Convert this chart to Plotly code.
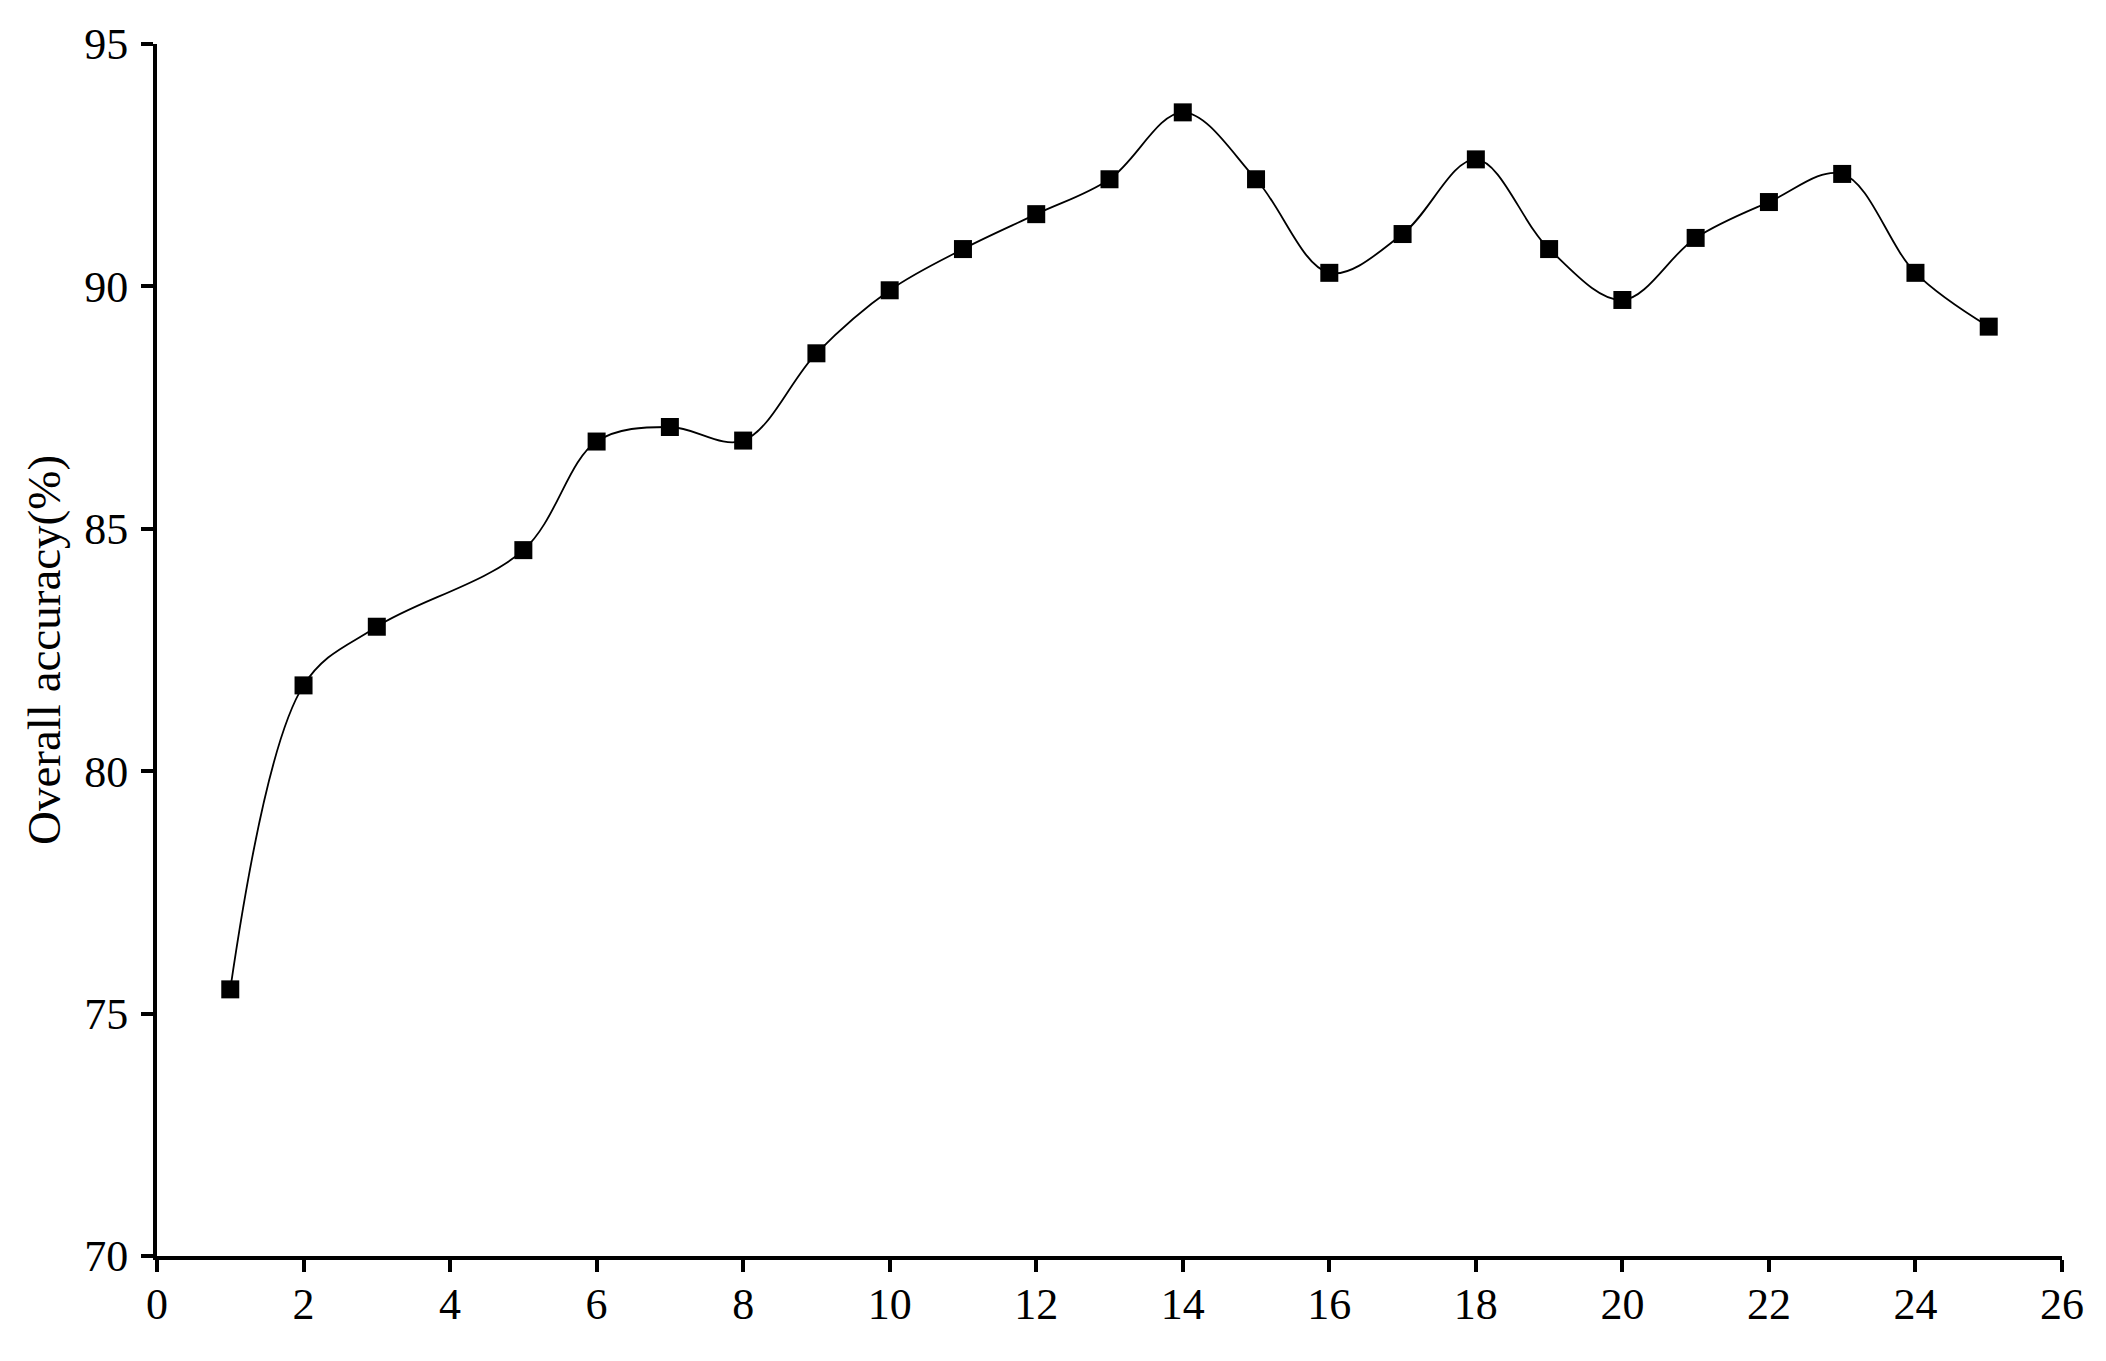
import plotly.graph_objects as go

epochs = [1, 2, 3, 5, 6, 7, 8, 9, 10, 11, 12, 13, 14, 15, 16, 17, 18, 19, 20, 21, 22, 23, 24, 25]
accuracy = [75.5, 81.77, 82.98, 84.56, 86.8, 87.1, 86.82, 88.62, 89.92, 90.77, 91.49, 92.21,
            93.59, 92.21, 90.28, 91.08, 92.62, 90.77, 89.72, 91.0, 91.74, 92.32, 90.28, 89.17]
x_ticks = list(range(0, 27, 2))
y_ticks = [70, 75, 80, 85, 90, 95]
y_title = "Overall accuracy(%)"

fig = go.Figure()
fig.add_trace(go.Scatter(
    x=epochs, y=accuracy,
    mode="lines+markers",
    line=dict(color="black", width=1.8, shape="spline", smoothing=1.0),
    marker=dict(symbol="square", size=18, color="black"),
    showlegend=False,
))

axis_common = dict(
    showline=True, linecolor="black", linewidth=4,
    ticks="outside", ticklen=12, tickwidth=4, tickcolor="black",
    showgrid=False, zeroline=False,
    tickfont=dict(family="Liberation Serif, DejaVu Serif, serif", size=44, color="black"),
)

fig.update_xaxes(range=[0, 26], tickvals=x_ticks, ticklabelstandoff=-6, **axis_common)
fig.update_yaxes(range=[70, 95], tickvals=y_ticks, ticklabelstandoff=4,
                 title=dict(text=y_title, standoff=10,
                            font=dict(family="Liberation Serif, Times New Roman, serif", size=47, color="black")),
                 **axis_common)

fig.update_layout(
    width=2106, height=1361,
    margin=dict(l=149, r=52, t=32, b=113),
    plot_bgcolor="white", paper_bgcolor="white",
)

fig.write_html("out.html")
